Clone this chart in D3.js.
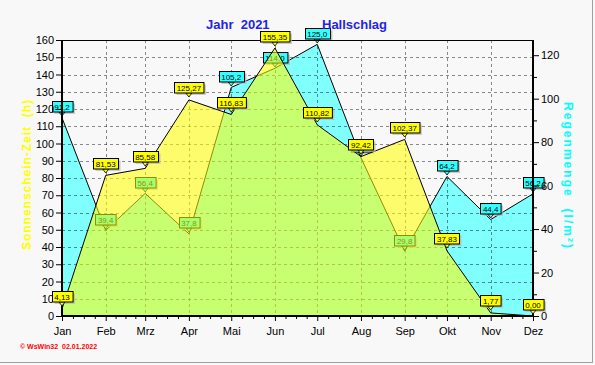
<!DOCTYPE html>
<html>

<head>
  <meta charset="utf-8">
  <script src="https://d3js.org/d3.v7.min.js"></script>
  <style>
    body { margin: 0; background: #f8f8f8; }
    text { font-family: "Liberation Sans", Arial, sans-serif; }
  </style>
</head>

<body>
  <div id="my_dataviz"></div>
  <script>
    // data
    var months = ["Jan", "Feb", "Mrz", "Apr", "Mai", "Jun", "Jul", "Aug", "Sep", "Okt", "Nov", "Dez"];
    var sunshine = [4.13, 81.53, 85.58, 125.27, 116.83, 155.35, 110.82, 92.42, 102.37, 37.83, 1.77, 0.00];
    var rain = [91.2, 39.4, 56.4, 37.8, 105.2, 114.0, 125.0, 72.8, 29.8, 64.2, 44.4, 56.2];
    var leftTicks = d3.range(0, 161, 10);
    var rightTicks = [0, 20, 40, 60, 80, 100, 120];
    var rightMinor = [10, 30, 50, 70, 90, 110];

    var W = 595, H = 365;
    var dates = months.map(function (m, i) { return new Date(2021, i, 1); });

    var svg = d3.select("#my_dataviz")
      .append("svg")
      .attr("width", W)
      .attr("height", H);

    svg.append("rect").attr("width", W).attr("height", H).attr("fill", "#f8f8f8");
    // panel border
    svg.append("line").attr("x1", 0).attr("x2", 592).attr("y1", 362.5).attr("y2", 362.5).attr("stroke", "#a0a0a0");
    svg.append("line").attr("x1", 592.5).attr("x2", 592.5).attr("y1", 0).attr("y2", 363).attr("stroke", "#a0a0a0");

    var x = d3.scaleTime()
      .domain([dates[0], dates[11]])
      .range([62, 533]);
    var yL = d3.scaleLinear().domain([0, 160]).range([316, 40]);
    var yR = d3.scaleLinear().domain([0, 127]).range([316, 40]);

    // rain area (right axis)
    var rainArea = d3.area()
      .x(function (d, i) { return x(dates[i]); })
      .y0(yR(0))
      .y1(function (d) { return yR(d); });
    var rainLine = d3.line()
      .x(function (d, i) { return x(dates[i]); })
      .y(function (d) { return yR(d); });

    svg.append("path").datum(rain)
      .attr("d", rainArea)
      .attr("fill", "#80ffff");
    svg.append("path").datum(rain)
      .attr("d", rainLine)
      .attr("fill", "none")
      .attr("stroke", "black");

    // grid
    var grid = svg.append("g")
      .attr("stroke", "#000")
      .attr("stroke-opacity", 0.45)
      .attr("stroke-dasharray", "3,3");
    grid.selectAll("hline")
      .data(leftTicks.filter(function (t) { return t > 0 && t < 160; }))
      .enter().append("line")
      .attr("x1", 62).attr("x2", 533)
      .attr("y1", function (d) { return Math.round(yL(d)) + 0.5; })
      .attr("y2", function (d) { return Math.round(yL(d)) + 0.5; });
    grid.selectAll("vline")
      .data(dates.slice(1, 11))
      .enter().append("line")
      .attr("y1", 40).attr("y2", 316)
      .attr("x1", function (d) { return Math.round(x(d)) + 0.5; })
      .attr("x2", function (d) { return Math.round(x(d)) + 0.5; });

    // callout labels
    function callouts(values, yScale, fmt, fill, gap) {
      var g = svg.append("g");
      values.forEach(function (v, i) {
        var px = x(dates[i]), py = yScale(v);
        var label = fmt(v);
        var t = g.append("text")
          .attr("font-size", 8)
          .attr("text-anchor", "middle")
          .text(label);
        var w = t.node().getComputedTextLength() + 5;
        var bottom = py - gap, top = bottom - 10.5;
        var lx = Math.round(px - w / 2) + 0.5;
        // shadow
        g.insert("rect", "text")
          .attr("x", lx + 2).attr("y", Math.round(top) + 2.5)
          .attr("width", w).attr("height", 10.5)
          .attr("fill", "#b8b8b8").attr("opacity", 0.7);
        g.insert("path", "text")
          .attr("d", "M" + (px - 3) + "," + (Math.round(top) + 11) + "L" + px + "," + (Math.round(top) + 15) + "L" + (px + 3) + "," + (Math.round(top) + 11) + "Z")
          .attr("fill", fill).attr("stroke", "black").attr("stroke-width", 0.8);
        g.insert("rect", "text")
          .attr("x", lx).attr("y", Math.round(top) + 0.5)
          .attr("width", w).attr("height", 10.5)
          .attr("fill", fill).attr("stroke", "black");
        t.attr("x", px).attr("y", Math.round(top) + 9);
      });
    }

    function comma(n) {
      return function (v) { return v.toFixed(n).replace(".", ","); };
    }

    callouts(rain, yR, comma(1), "#33ffff", 6);

    // sunshine area (left axis), translucent
    var sunArea = d3.area()
      .x(function (d, i) { return x(dates[i]); })
      .y0(yL(0))
      .y1(function (d) { return yL(d); });
    var sunLine = d3.line()
      .x(function (d, i) { return x(dates[i]); })
      .y(function (d) { return yL(d); });

    svg.append("path").datum(sunshine)
      .attr("d", sunArea)
      .attr("fill", "#ffff00")
      .attr("fill-opacity", 0.56);
    svg.append("path").datum(sunshine)
      .attr("d", sunLine)
      .attr("fill", "none")
      .attr("stroke", "black");

    // frame
    svg.append("line").attr("x1", 62).attr("x2", 533).attr("y1", 40.5).attr("y2", 40.5).attr("stroke", "black");
    svg.append("line").attr("x1", 62).attr("x2", 62).attr("y1", 40).attr("y2", 317).attr("stroke", "black").attr("stroke-width", 2);
    svg.append("line").attr("x1", 533).attr("x2", 533).attr("y1", 40).attr("y2", 317).attr("stroke", "black").attr("stroke-width", 2);
    svg.append("line").attr("x1", 61).attr("x2", 534).attr("y1", 316).attr("y2", 316).attr("stroke", "black").attr("stroke-width", 2);

    // axes
    var leftAxis = svg.append("g")
      .attr("transform", "translate(61,0)")
      .call(d3.axisLeft(yL).tickValues(leftTicks).tickSize(5).tickPadding(2));
    var rightAxis = svg.append("g")
      .attr("transform", "translate(534,0)")
      .call(d3.axisRight(yR).tickValues(rightTicks).tickSize(5).tickPadding(2));
    var rightAxisMinor = svg.append("g")
      .attr("transform", "translate(534,0)")
      .call(d3.axisRight(yR).tickValues(rightMinor).tickSize(3).tickFormat(""));
    var bottomAxis = svg.append("g")
      .attr("transform", "translate(0,317)")
      .call(d3.axisBottom(x).tickValues(dates).tickSize(4).tickPadding(6)
        .tickFormat(function (d, i) { return months[i]; }));

    var minor = [];
    for (var i = 0; i < 11; i++) {
      for (var k = 1; k < 4; k++) {
        minor.push(new Date(dates[i].getTime() + (dates[i + 1] - dates[i]) * k / 4));
      }
    }
    var bottomMinor = svg.append("g")
      .attr("transform", "translate(0,317)")
      .call(d3.axisBottom(x).tickValues(minor).tickSize(2).tickFormat(""));

    [leftAxis, rightAxis, rightAxisMinor, bottomAxis, bottomMinor].forEach(function (a) {
      a.select(".domain").remove();
      a.selectAll("text").attr("font-size", 11).attr("fill", "black")
        .attr("font-family", "'Liberation Sans', Arial, sans-serif");
    });

    callouts(sunshine, yL, comma(2), "#ffff00", 7);

    // titles
    svg.append("text").attr("x", 206).attr("y", 29)
      .attr("font-size", 13).attr("font-weight", "bold").attr("fill", "#2424e6")
      .style("white-space", "pre").text("Jahr  2021");
    svg.append("text").attr("x", 322).attr("y", 29)
      .attr("font-size", 13).attr("font-weight", "bold").attr("fill", "#2424e6")
      .text("Hallschlag");

    svg.append("text")
      .attr("transform", "translate(31,175) rotate(-90)")
      .attr("text-anchor", "middle")
      .attr("font-size", 12).attr("font-weight", "bold").attr("fill", "#ffff00")
      .attr("textLength", 150).attr("lengthAdjust", "spacing")
      .style("white-space", "pre")
      .text("Sonnenschein-Zeit  (h)");

    svg.append("text")
      .attr("transform", "translate(564,175) rotate(90)")
      .attr("text-anchor", "middle")
      .attr("font-size", 12).attr("font-weight", "bold").attr("fill", "#00ffff")
      .attr("textLength", 146).attr("lengthAdjust", "spacing")
      .style("white-space", "pre")
      .text("Regenmenge  (l/m²)");

    svg.append("text").attr("x", 20).attr("y", 349)
      .attr("font-size", 7).attr("font-weight", "bold").attr("fill", "#ff0000")
      .style("white-space", "pre")
      .text("© WsWin32  02.01.2022");
  </script>
</body>

</html>
